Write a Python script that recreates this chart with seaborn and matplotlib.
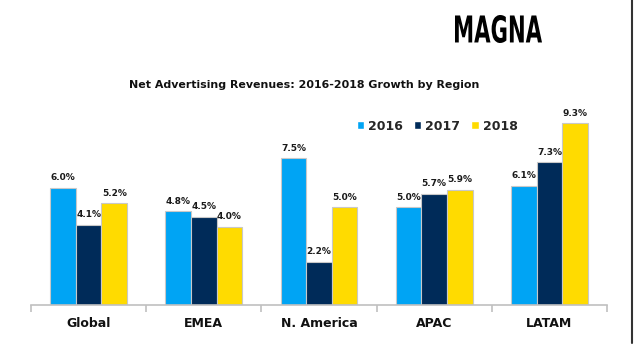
import matplotlib
matplotlib.use("Agg")
import matplotlib.pyplot as plt
import pandas as pd
import seaborn as sns
from matplotlib.font_manager import FontProperties
from matplotlib.lines import Line2D
from matplotlib.patches import PathPatch, Rectangle
from matplotlib.textpath import TextPath
from matplotlib.transforms import Affine2D

regions = ["Global", "EMEA", "N. America", "APAC", "LATAM"]
years = ["2016", "2017", "2018"]
growth_2016 = [6.0, 4.8, 7.5, 5.0, 6.1]
growth_2017 = [4.1, 4.5, 2.2, 5.7, 7.3]
growth_2018 = [5.2, 4.0, 5.0, 5.9, 9.3]

color_map = {"2016": "#00a4f4", "2017": "#002b59", "2018": "#ffdb00"}

df = pd.DataFrame(
    {
        "region": regions * 3,
        "year": [y for y in years for _ in regions],
        "growth": growth_2016 + growth_2017 + growth_2018,
    }
)

sns.set_style("white")
plt.rcParams["font.family"] = ["DejaVu Sans"]

W, H = 634, 351
fig = plt.figure(figsize=(W / 100, H / 100), dpi=100)
ax = fig.add_axes([31 / W, (H - 304.7) / H, 576 / W, 204.7 / H])

sns.barplot(
    df,
    x="region",
    y="growth",
    hue="year",
    order=regions,
    hue_order=years,
    palette=color_map,
    width=0.667,
    gap=0,
    edgecolor="#c8c8c8",
    linewidth=0.8,
    saturation=1,
    legend=False,
    ax=ax,
)

for container in ax.containers:
    ax.bar_label(
        container,
        labels=[f"{v:.1f}%" for v in container.datavalues],
        padding=4,
        fontsize=6.5,
        fontweight="bold",
        color="#1a1a1a",
    )

ax.set_xlim(-0.5, len(regions) - 0.5)
ax.set_ylim(0, 10.5)
ax.set_xlabel("")
ax.set_ylabel("")
ax.set_yticks([])
for side in ["top", "right", "left"]:
    ax.spines[side].set_visible(False)
ax.spines["bottom"].set_color("#c0c0c0")
ax.spines["bottom"].set_linewidth(1.2)
ax.set_xticks([i - 0.5 for i in range(len(regions) + 1)], minor=True)
ax.tick_params(axis="x", which="minor", length=5, width=1.2, color="#c0c0c0", bottom=True)
ax.tick_params(axis="x", which="major", length=0, pad=9, labelsize=9)
for lbl in ax.get_xticklabels():
    lbl.set_fontweight("bold")
    lbl.set_color("#111111")

fig.text(304 / W, 1 - 85 / H, "Net Advertising Revenues: 2016-2018 Growth by Region",
         ha="center", va="center", fontsize=7.9, fontweight="bold", color="#111111")

# legend
handles = [Rectangle((0, 0), 1, 1, fc=color_map[y]) for y in years]
fig.legend(handles, years, loc="center", bbox_to_anchor=(437 / W, 1 - 126 / H),
           ncol=3, frameon=False, prop={"weight": "bold", "size": 9},
           handlelength=0.6, handleheight=0.6, handletextpad=0.3, columnspacing=0.9)

# logo, squeezed horizontally to look condensed
tp = TextPath((0, 0), "MAGNA", size=40, prop=FontProperties(family="DejaVu Sans", weight="heavy"))
bb = tp.get_extents()
sx = 87 / bb.width
sy = 28 / bb.height
logo_tf = Affine2D().translate(-bb.x0, -bb.y0).scale(sx, sy).translate(455, H - 43)
fig.add_artist(PathPatch(tp, transform=logo_tf, fc="black", ec="none"))

fig.add_artist(Line2D([632 / W, 632 / W], [(H - 343) / H, 1],
                      transform=fig.transFigure, color="#333333", linewidth=1.5))

fig.savefig("out.png", dpi=100)
